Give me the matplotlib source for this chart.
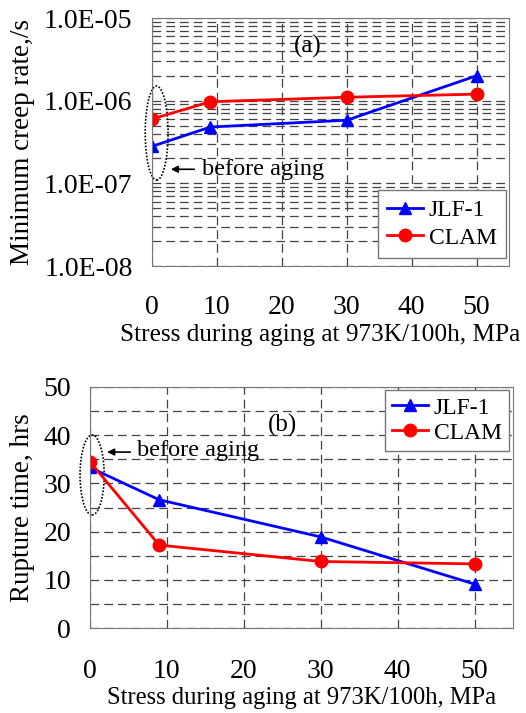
import matplotlib.pyplot as plt
from matplotlib.patches import Ellipse
from matplotlib.ticker import FixedLocator, FuncFormatter, LogLocator, MultipleLocator

# stress during aging, MPa
stress = [0, 9, 30, 50]

# (a) minimum creep rate, 1/s
jlf_rate = [2.8e-7, 4.8e-7, 5.8e-7, 2.0e-6]
clam_rate = [6.0e-7, 9.7e-7, 1.1e-6, 1.2e-6]

# (b) rupture time, hrs
jlf_time = [33.3, 26.6, 18.9, 9.1]
clam_time = [34.5, 17.2, 13.8, 13.3]

plt.rcParams['font.family'] = ['Liberation Serif', 'DejaVu Serif']
plt.rcParams['font.size'] = 20

fig = plt.figure(figsize=(5.26, 7.13), dpi=100)
W, H = 526, 713
ax1 = fig.add_axes([152 / W, 1 - 266 / H, 357 / W, 248 / H])
ax2 = fig.add_axes([90 / W, 1 - 628 / H, 423 / W, 241 / H])

grid_kw = dict(color='#444444', linestyle=(0, (7, 4)), linewidth=0.9)


def style_axes(ax, xpad, ypad):
    for s in ax.spines.values():
        s.set_color('#777777')
    ax.tick_params(which='both', length=0, labelsize=20)
    ax.tick_params(axis='x', pad=xpad)
    ax.tick_params(axis='y', pad=ypad)
    ax.set_axisbelow(True)


# top panel
ax1.plot(stress, jlf_rate, color='#0000ff', marker='^', markersize=9, linewidth=2, label='JLF-1')
ax1.plot(stress, clam_rate, color='#ff0000', marker='o', markersize=9, linewidth=2, label='CLAM')
ax1.set_yscale('log')
ax1.set_ylim(1e-8, 1e-5)
ax1.set_xlim(0, 55)
ax1.xaxis.set_major_locator(FixedLocator([0, 10, 20, 30, 40, 50]))
ax1.yaxis.set_major_locator(FixedLocator([1e-8, 1e-7, 1e-6, 1e-5]))
ax1.yaxis.set_minor_locator(LogLocator(base=10, subs=range(2, 10)))
ax1.yaxis.set_major_formatter(FuncFormatter(lambda v, p: '%.1E' % v))
ax1.yaxis.set_minor_formatter(FuncFormatter(lambda v, p: ''))
ax1.grid(True, which='both', axis='y', **grid_kw)
ax1.grid(True, which='major', axis='x', **grid_kw)
ax1.set_ylabel('Minimum creep rate,/s', fontsize=19.5)
ax1.set_xlabel('Stress during aging at 973K/100h, MPa', fontsize=18.2)
ax1.yaxis.set_label_coords(-0.328, 0.5)
ax1.xaxis.set_label_coords(0.47, -0.235)
style_axes(ax1, 21, 14)
ax1.text(0.435, 0.885, '(a)', transform=ax1.transAxes, ha='center', va='center', fontsize=18)
ax1.add_patch(Ellipse((0.013, 0.536), 0.064, 0.379, transform=ax1.transAxes, fill=False,
                      linestyle=(0, (1, 1)), linewidth=1.2, edgecolor='black', clip_on=False))
ax1.annotate('', xy=(0.045, 0.39), xytext=(0.126, 0.39), xycoords='axes fraction',
             arrowprops=dict(arrowstyle='-|>', color='black', linewidth=1.2, mutation_scale=10))
ax1.text(0.14, 0.39, 'before aging', transform=ax1.transAxes, ha='left', va='center', fontsize=17.5)
ax1.legend(loc='lower right', fontsize=17, fancybox=False, framealpha=1,
           edgecolor='#777777', handlelength=1.5, handletextpad=0.25, borderaxespad=0,
           labelspacing=0.25, bbox_to_anchor=(0.992, 0.032))

# bottom panel
ax2.plot(stress, jlf_time, color='#0000ff', marker='^', markersize=9, linewidth=2, label='JLF-1')
ax2.plot(stress, clam_time, color='#ff0000', marker='o', markersize=9, linewidth=2, label='CLAM')
ax2.set_ylim(0, 50)
ax2.set_xlim(0, 55)
ax2.xaxis.set_major_locator(FixedLocator([0, 10, 20, 30, 40, 50]))
ax2.yaxis.set_major_locator(MultipleLocator(10))
ax2.yaxis.set_minor_locator(MultipleLocator(5))
ax2.grid(True, which='both', axis='y', **grid_kw)
ax2.grid(True, which='major', axis='x', **grid_kw)
ax2.set_ylabel('Rupture time, hrs', fontsize=19.5)
ax2.set_xlabel('Stress during aging at 973K/100h, MPa', fontsize=17.7)
ax2.yaxis.set_label_coords(-0.130, 0.5)
ax2.xaxis.set_label_coords(0.5, -0.245)
style_axes(ax2, 22, 13.5)
ax2.text(0.455, 0.84, '(b)', transform=ax2.transAxes, ha='center', va='center', fontsize=18)
ax2.add_patch(Ellipse((0.005, 0.635), 0.057, 0.332, transform=ax2.transAxes, fill=False,
                      linestyle=(0, (1, 1)), linewidth=1.2, edgecolor='black', clip_on=False))
ax2.annotate('', xy=(0.034, 0.73), xytext=(0.102, 0.73), xycoords='axes fraction',
             arrowprops=dict(arrowstyle='-|>', color='black', linewidth=1.2, mutation_scale=10))
ax2.text(0.11, 0.735, 'before aging', transform=ax2.transAxes, ha='left', va='center', fontsize=17.5)
ax2.legend(loc='upper right', fontsize=17, fancybox=False, framealpha=1,
           edgecolor='#777777', handlelength=1.5, handletextpad=0.25, borderpad=0.3,
           borderaxespad=0, labelspacing=0.15, bbox_to_anchor=(0.99, 0.988))

fig.savefig('out.png', dpi=100)
